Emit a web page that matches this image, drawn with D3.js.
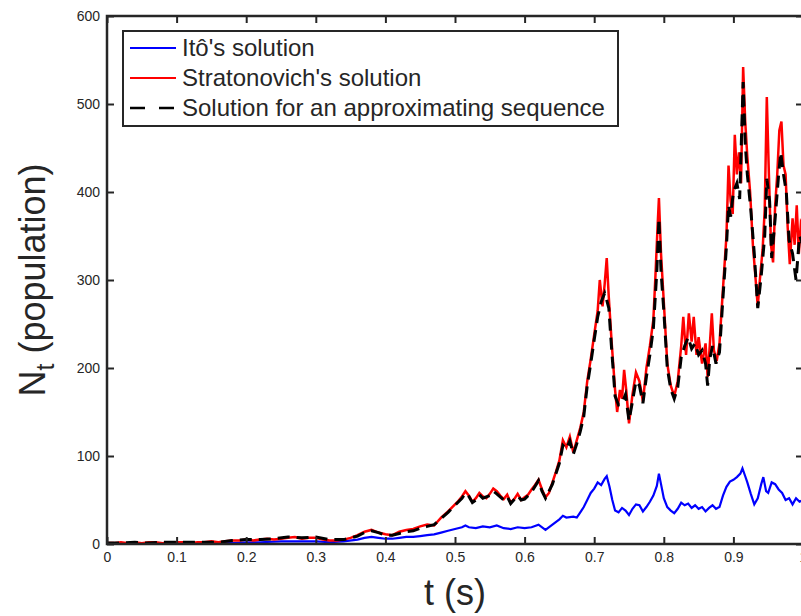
<!DOCTYPE html>
<html lang="en">
<head>
<meta charset="utf-8">
<title>Ito vs Stratonovich</title>
<script type="text/javascript" src="https://cdn.jsdelivr.net/npm/d3@7"></script>
<style>
  body { margin: 0; background: #fff; }
  svg text { font-family: "Liberation Sans", Arial, Helvetica, sans-serif; fill: #262626; }
  .axis path { display: none; }
  .axis line { stroke: #262626; stroke-width: 2; }
</style>
</head>
<body>
<script type="text/javascript">

// series as [t, N] pairs
let itoSolution = [
  [0, 1], [0.05, 1], [0.1, 1], [0.15, 1], [0.18, 1], [0.2, 2], [0.22, 2], [0.25, 3], [0.27, 3],
  [0.3, 3], [0.32, 2], [0.34, 3], [0.36, 5], [0.37, 7], [0.38, 8], [0.39, 7], [0.4, 6], [0.41, 6],
  [0.42, 7], [0.43, 8], [0.44, 8], [0.45, 9], [0.46, 10], [0.47, 11], [0.48, 13], [0.49, 15],
  [0.5, 17], [0.51, 19], [0.515, 21], [0.52, 19], [0.53, 18], [0.54, 20], [0.55, 19], [0.56, 21],
  [0.57, 18], [0.58, 17], [0.59, 19], [0.6, 18], [0.61, 19], [0.62, 22], [0.63, 16], [0.64, 22],
  [0.65, 28], [0.655, 32], [0.66, 30], [0.67, 31], [0.675, 30], [0.68, 36], [0.685, 42], [0.69, 50],
  [0.695, 58], [0.7, 63], [0.705, 70], [0.71, 67], [0.715, 74], [0.718, 77], [0.722, 65], [0.726, 50],
  [0.73, 38], [0.735, 36], [0.74, 41], [0.745, 38], [0.75, 33], [0.755, 40], [0.76, 45], [0.765, 44],
  [0.77, 37], [0.775, 42], [0.78, 48], [0.785, 55], [0.79, 66], [0.793, 80], [0.796, 68], [0.8, 52],
  [0.805, 42], [0.81, 38], [0.815, 35], [0.82, 40], [0.825, 47], [0.83, 44], [0.835, 46], [0.84, 41],
  [0.845, 44], [0.85, 40], [0.855, 42], [0.86, 37], [0.865, 41], [0.87, 44], [0.875, 40], [0.88, 42],
  [0.885, 55], [0.89, 65], [0.895, 71], [0.9, 73], [0.905, 76], [0.91, 80], [0.913, 86], [0.917, 77],
  [0.92, 70], [0.925, 57], [0.93, 45], [0.935, 52], [0.94, 68], [0.943, 76], [0.947, 60], [0.95, 58],
  [0.955, 70], [0.96, 68], [0.965, 62], [0.97, 58], [0.975, 50], [0.98, 52], [0.985, 45], [0.99, 52],
  [0.995, 48], [1, 50]
];

let stratSolution = [
  [0, 1], [0.01, 1], [0.02, 2], [0.03, 1], [0.04, 2], [0.05, 1], [0.06, 2], [0.07, 2], [0.08, 1],
  [0.09, 2], [0.1, 2], [0.11, 2], [0.12, 1], [0.13, 2], [0.14, 2], [0.15, 3], [0.16, 2], [0.17, 3],
  [0.18, 4], [0.19, 4], [0.2, 5], [0.21, 4], [0.22, 5], [0.23, 6], [0.24, 5], [0.25, 6], [0.26, 7],
  [0.27, 8], [0.28, 6], [0.29, 7], [0.3, 7], [0.31, 5], [0.32, 4], [0.33, 4], [0.34, 5], [0.35, 7],
  [0.36, 10], [0.37, 14], [0.38, 16], [0.39, 13], [0.4, 11], [0.41, 10], [0.42, 14], [0.43, 16],
  [0.44, 17], [0.45, 20], [0.46, 22], [0.47, 21], [0.48, 30], [0.49, 37], [0.5, 45], [0.505, 49],
  [0.51, 54], [0.515, 60], [0.52, 55], [0.525, 48], [0.53, 52], [0.535, 58], [0.54, 54], [0.545, 52],
  [0.55, 57], [0.555, 63], [0.56, 60], [0.565, 55], [0.57, 51], [0.575, 56], [0.58, 47], [0.585, 51],
  [0.59, 57], [0.595, 50], [0.6, 53], [0.605, 56], [0.61, 62], [0.615, 67], [0.62, 73], [0.625, 62],
  [0.63, 53], [0.635, 58], [0.64, 70], [0.645, 82], [0.65, 95], [0.655, 118], [0.66, 110], [0.665, 122],
  [0.67, 104], [0.675, 118], [0.68, 132], [0.685, 150], [0.69, 185], [0.695, 210], [0.7, 238],
  [0.705, 265], [0.708, 300], [0.712, 270], [0.715, 295], [0.718, 325], [0.721, 280], [0.725, 230],
  [0.73, 175], [0.733, 150], [0.737, 175], [0.74, 165], [0.743, 198], [0.746, 175], [0.75, 137],
  [0.755, 170], [0.76, 195], [0.765, 185], [0.77, 162], [0.775, 200], [0.78, 225], [0.785, 255],
  [0.788, 305], [0.791, 360], [0.793, 393], [0.796, 330], [0.8, 275], [0.805, 205], [0.81, 180],
  [0.815, 168], [0.82, 185], [0.825, 225], [0.828, 258], [0.832, 215], [0.836, 262], [0.84, 230],
  [0.843, 258], [0.847, 215], [0.85, 235], [0.855, 205], [0.86, 228], [0.863, 190], [0.866, 225],
  [0.869, 262], [0.872, 220], [0.876, 208], [0.88, 228], [0.885, 290], [0.89, 350], [0.893, 430],
  [0.896, 390], [0.899, 375], [0.902, 465], [0.905, 420], [0.908, 445], [0.911, 410], [0.914, 542],
  [0.917, 480], [0.92, 440], [0.924, 400], [0.928, 340], [0.932, 300], [0.935, 270], [0.938, 300],
  [0.942, 335], [0.945, 380], [0.948, 508], [0.951, 420], [0.954, 340], [0.957, 320], [0.96, 385],
  [0.963, 420], [0.966, 470], [0.969, 480], [0.972, 430], [0.975, 420], [0.978, 360], [0.981, 318],
  [0.985, 370], [0.988, 340], [0.991, 385], [0.994, 330], [0.997, 365], [1, 360]
];

let approxSolution = [
  [0, 1], [0.02, 1], [0.04, 2], [0.06, 1], [0.08, 2], [0.1, 2], [0.12, 2], [0.14, 2], [0.16, 2],
  [0.18, 4], [0.2, 5], [0.22, 5], [0.24, 6], [0.26, 8], [0.28, 7], [0.3, 8], [0.32, 5], [0.34, 5],
  [0.36, 9], [0.37, 13], [0.38, 15], [0.39, 13], [0.4, 10], [0.41, 10], [0.42, 12], [0.43, 14],
  [0.44, 15], [0.45, 18], [0.46, 20], [0.47, 22], [0.48, 29], [0.49, 36], [0.5, 44], [0.51, 52],
  [0.515, 58], [0.52, 54], [0.525, 47], [0.53, 50], [0.535, 56], [0.54, 52], [0.55, 55], [0.555, 60],
  [0.56, 57], [0.57, 50], [0.575, 54], [0.58, 46], [0.59, 55], [0.595, 50], [0.6, 51], [0.61, 59],
  [0.62, 72], [0.625, 60], [0.63, 52], [0.64, 68], [0.65, 92], [0.655, 112], [0.66, 108], [0.665, 117],
  [0.67, 102], [0.675, 114], [0.68, 128], [0.685, 145], [0.69, 180], [0.695, 205], [0.7, 232],
  [0.705, 258], [0.71, 275], [0.715, 285], [0.718, 277], [0.721, 268], [0.725, 222], [0.73, 168],
  [0.735, 158], [0.74, 160], [0.745, 170], [0.75, 140], [0.755, 162], [0.76, 185], [0.765, 180],
  [0.77, 160], [0.775, 190], [0.78, 215], [0.785, 245], [0.79, 310], [0.793, 370], [0.796, 310],
  [0.8, 265], [0.805, 200], [0.81, 176], [0.815, 165], [0.82, 178], [0.825, 212], [0.83, 225],
  [0.835, 235], [0.84, 222], [0.845, 228], [0.85, 215], [0.855, 220], [0.86, 205], [0.863, 180],
  [0.866, 210], [0.87, 225], [0.875, 205], [0.88, 218], [0.885, 280], [0.89, 338], [0.893, 385],
  [0.896, 372], [0.9, 400], [0.905, 410], [0.909, 392], [0.914, 525], [0.917, 455], [0.92, 420],
  [0.925, 380], [0.93, 330], [0.935, 268], [0.94, 305], [0.945, 350], [0.948, 415], [0.952, 390],
  [0.955, 325], [0.96, 370], [0.965, 420], [0.968, 445], [0.972, 420], [0.976, 400], [0.98, 345],
  [0.985, 330], [0.99, 300], [0.995, 350], [1, 340]
];

let xTicks = [0, 0.1, 0.2, 0.3, 0.4, 0.5, 0.6, 0.7, 0.8, 0.9, 1];
let yTicks = [0, 100, 200, 300, 400, 500, 600];
let legendLabels = ["Itô's solution", "Stratonovich's solution", "Solution for an approximating sequence"];

let w = 801;
let h = 616;
let plotLeft = 107, plotRight = 803, plotTop = 16, plotBottom = 544;

let xScale = d3.scaleLinear()
  .domain([0, 1])
  .range([plotLeft, plotRight]);

let yScale = d3.scaleLinear()
  .domain([0, 600])
  .range([plotBottom, plotTop]);

let svg = d3.select("body")
  .append("svg")
  .attr("width", w)
  .attr("height", h);

let line = d3.line()
  .x((d) => xScale(d[0]))
  .y((d) => yScale(d[1]));

svg.append("path")
  .datum(itoSolution)
  .attr("d", line)
  .attr("fill", "none")
  .attr("stroke", "#0000ff")
  .attr("stroke-width", 2.2);

svg.append("path")
  .datum(stratSolution)
  .attr("d", line)
  .attr("fill", "none")
  .attr("stroke", "#ff0000")
  .attr("stroke-width", 2.5);

svg.append("path")
  .datum(approxSolution)
  .attr("d", line)
  .attr("fill", "none")
  .attr("stroke", "#000")
  .attr("stroke-width", 3)
  .attr("stroke-dasharray", "12,7");

// axes: MATLAB style, ticks pointing inward, box all round
let fmt = (d) => d === 0 || d === 1 ? String(d) : d3.format(".1f")(d);

svg.append("g")
  .attr("class", "axis")
  .attr("transform", "translate(0," + plotBottom + ")")
  .call(d3.axisBottom(xScale).tickValues(xTicks).tickFormat(fmt)
    .tickSizeInner(-7).tickSizeOuter(0).tickPadding(8))
  .selectAll("text").attr("font-size", 14);

svg.append("g")
  .attr("class", "axis")
  .attr("transform", "translate(0," + plotTop + ")")
  .call(d3.axisTop(xScale).tickValues(xTicks).tickFormat("")
    .tickSizeInner(-7).tickSizeOuter(0));

svg.append("g")
  .attr("class", "axis")
  .attr("transform", "translate(" + plotLeft + ",0)")
  .call(d3.axisLeft(yScale).tickValues(yTicks)
    .tickSizeInner(-7).tickSizeOuter(0).tickPadding(7))
  .selectAll("text").attr("font-size", 14);

svg.append("g")
  .attr("class", "axis")
  .attr("transform", "translate(" + plotRight + ",0)")
  .call(d3.axisRight(yScale).tickValues(yTicks).tickFormat("")
    .tickSizeInner(-7).tickSizeOuter(0));

svg.append("rect")
  .attr("x", plotLeft)
  .attr("y", plotTop)
  .attr("width", plotRight - plotLeft)
  .attr("height", plotBottom - plotTop)
  .attr("fill", "none")
  .attr("stroke", "#262626")
  .attr("stroke-width", 2.5);

// axis labels
svg.append("text")
  .attr("x", 455)
  .attr("y", 605)
  .attr("text-anchor", "middle")
  .attr("font-size", 36)
  .text("t (s)");

let ylab = svg.append("text")
  .attr("transform", "translate(45,280) rotate(-90)")
  .attr("text-anchor", "middle")
  .attr("font-size", 36);
ylab.append("tspan").text("N");
ylab.append("tspan").attr("font-size", 25).attr("dy", 9).text("t");
ylab.append("tspan").attr("dy", -9).text(" (population)");

// legend
let legend = svg.append("g");
legend.append("rect")
  .attr("x", 123)
  .attr("y", 31)
  .attr("width", 495)
  .attr("height", 95)
  .attr("fill", "#fff")
  .attr("stroke", "#262626")
  .attr("stroke-width", 2);

let legendStyles = [
  { color: "#0000ff", width: 2, dash: null },
  { color: "#ff0000", width: 2, dash: null },
  { color: "#000", width: 2.5, dash: "15,14" }
];

legendLabels.forEach(function(label, i) {
  let y = 48 + i * 30;
  legend.append("line")
    .attr("x1", 130).attr("x2", 176)
    .attr("y1", y).attr("y2", y)
    .attr("stroke", legendStyles[i].color)
    .attr("stroke-width", legendStyles[i].width)
    .attr("stroke-dasharray", legendStyles[i].dash);
  legend.append("text")
    .attr("x", 182)
    .attr("y", y)
    .attr("dy", "0.35em")
    .attr("font-size", 24)
    .attr("fill", "#000")
    .text(label);
});

</script>
</body>
</html>
